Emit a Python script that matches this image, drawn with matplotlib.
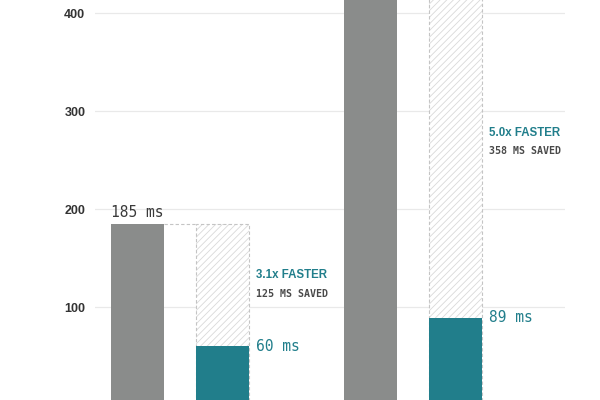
import matplotlib
matplotlib.use("Agg")
import matplotlib.pyplot as plt
import numpy as np

# data (ms)
before_ms = [185, 447]
after_ms = [60, 89]
speedup = ["3.1x", "5.0x"]
y_ticks = [100, 200, 300, 400]

GRAY = "#8a8c8b"
TEAL = "#217e8b"
HATCH = "#d9d9d9"
DASH = "#c4c4c4"

plt.rcParams["hatch.linewidth"] = 0.6
plt.rcParams["hatch.color"] = HATCH

fig = plt.figure(figsize=(6, 4), dpi=100)
ax = fig.add_axes([95 / 600, 0, 470 / 600, 1])

x = np.arange(len(before_ms))  # group locations
off = 0.182
width = 0.227

ax.bar(x - off, before_ms, width, color=GRAY, zorder=2)
# hatched "saved" area, full original height
ax.bar(x + off, before_ms, width, color="white", edgecolor=HATCH,
       hatch="/////", linewidth=0, zorder=2)
ax.bar(x + off, before_ms, width, fill=False, edgecolor=DASH,
       linestyle=(0, (3, 2)), linewidth=0.8, zorder=3)
ax.bar(x + off, after_ms, width, color=TEAL, zorder=4)

mono = "DejaVu Sans Mono"
for i in range(len(x)):
    b, a = before_ms[i], after_ms[i]
    # connector from gray bar to hatched bar
    ax.plot([x[i] - off + width / 2, x[i] + off - width / 2], [b, b],
            color=DASH, linestyle=(0, (3, 2)), linewidth=0.8, zorder=3)
    ax.annotate(f"{b} ms", xy=(x[i] - off - width / 2, b),
                xytext=(0, 3), textcoords="offset points",
                ha="left", va="bottom", fontsize=10.5, family=mono,
                color="#3a3a3a")
    ax.annotate(f"{a} ms", xy=(x[i] + off + width / 2, a),
                xytext=(5, 0), textcoords="offset points",
                ha="left", va="center", fontsize=10.5, family=mono,
                color=TEAL)
    mid = (a + b) / 2
    ax.annotate(f"{speedup[i]} FASTER", xy=(x[i] + off + width / 2, mid),
                xytext=(5, 7), textcoords="offset points",
                ha="left", va="center", fontsize=8.3, fontweight="bold",
                family="Liberation Sans", color=TEAL)
    ax.annotate(f"{b - a} MS SAVED", xy=(x[i] + off + width / 2, mid),
                xytext=(5, -6.5), textcoords="offset points",
                ha="left", va="center", fontsize=7.2, fontweight="bold",
                family=mono, color="#4a4a4a")

ax.set_xlim(-0.364, 1.649)
ax.set_ylim(5.1, 413.3)
ax.set_yticks(y_ticks)
ax.set_yticklabels([str(t) for t in y_ticks], fontsize=9,
                   fontweight="bold", color="#333333",
                   family="Liberation Sans")
ax.tick_params(axis="y", length=0, pad=7)
ax.set_xticks([])
ax.grid(axis="y", color="#e9e9e9", linewidth=0.9, zorder=0)
ax.set_axisbelow(True)
for s in ax.spines.values():
    s.set_visible(False)

plt.savefig("out.png", dpi=100)
